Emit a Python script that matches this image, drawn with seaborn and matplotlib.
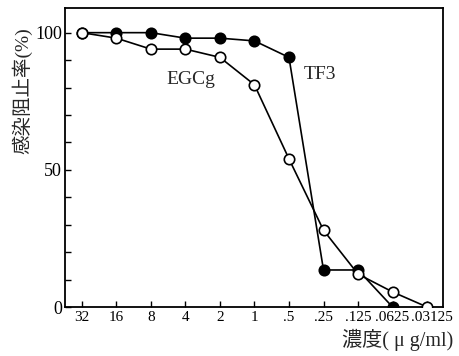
import matplotlib
matplotlib.use("Agg")
import matplotlib.pyplot as plt
import matplotlib.transforms as mtransforms
import pandas as pd
import seaborn as sns
from matplotlib.ticker import MultipleLocator

# concentration labels (ug/ml), descending
conc_labels = ["32", "16", "8", "4", "2", "1", ".5", ".25", ".125", ".0625", ".03125"]
# infection inhibition rate (%)
tf3 = [100, 100, 100, 98, 98, 97, 91, 13.5, 13.5, 0, None]
egcg = [100, 98, 94, 94, 91, 81, 54, 28, 12, 5.5, 0]

sns.set_theme(style="ticks")
plt.rcParams['font.family'] = ['Liberation Serif', 'Noto Sans CJK JP']

pos = list(range(len(conc_labels)))
df = pd.DataFrame({"pos": pos, "TF3": tf3, "EGCg": egcg})

fig = plt.figure(figsize=(4.6, 3.56), dpi=100)
ax = fig.add_axes([0.141, 0.1376, 0.822, 0.84])

sns.lineplot(data=df.dropna(subset=["TF3"]), x="pos", y="TF3", ax=ax, color="black",
             linewidth=1.2, marker="o", markersize=7.5, markerfacecolor="black",
             markeredgecolor="black", markeredgewidth=1.2)
sns.lineplot(data=df, x="pos", y="EGCg", ax=ax, color="black",
             linewidth=1.2, marker="o", markersize=7.5, markerfacecolor="white",
             markeredgecolor="black", markeredgewidth=1.2, zorder=3)

ax.set_xlim(-0.49, 10.46)
ax.set_ylim(0, 109)
ax.set_xticks(pos)
ax.set_xticklabels(conc_labels, fontsize=11)
ax.set_yticks([0, 50, 100])
ax.set_yticklabels(["0", "50", "100"], fontsize=13)
ax.yaxis.set_minor_locator(MultipleLocator(10))
ax.tick_params(axis="both", which="both", direction="in", length=4, width=1, colors="black")
ax.tick_params(axis="x", pad=3)
ax.tick_params(axis="y", pad=2)
for s in ax.spines.values():
    s.set_linewidth(1.3)
    s.set_color("black")

# nudge the crowded last label to the right a little
xlabels = ax.get_xticklabels()
off = mtransforms.ScaledTranslation(5 / 100, 0, fig.dpi_scale_trans)
xlabels[-1].set_transform(xlabels[-1].get_transform() + off)

ax.set_xlabel("")
ax.set_ylabel("感染阻止率(%)", fontsize=14)
ax.yaxis.set_label_coords(-0.087, 0.722)
fig.text(0.985, 0.045, "濃度( μ g/ml)", ha="right", va="center", fontsize=14.5)

ax.text(3.16, 82.8, "EGCg", fontsize=14, ha="center", va="center")
ax.text(6.9, 84.7, "TF3", fontsize=14, ha="center", va="center")

plt.savefig("out.png", dpi=100)
